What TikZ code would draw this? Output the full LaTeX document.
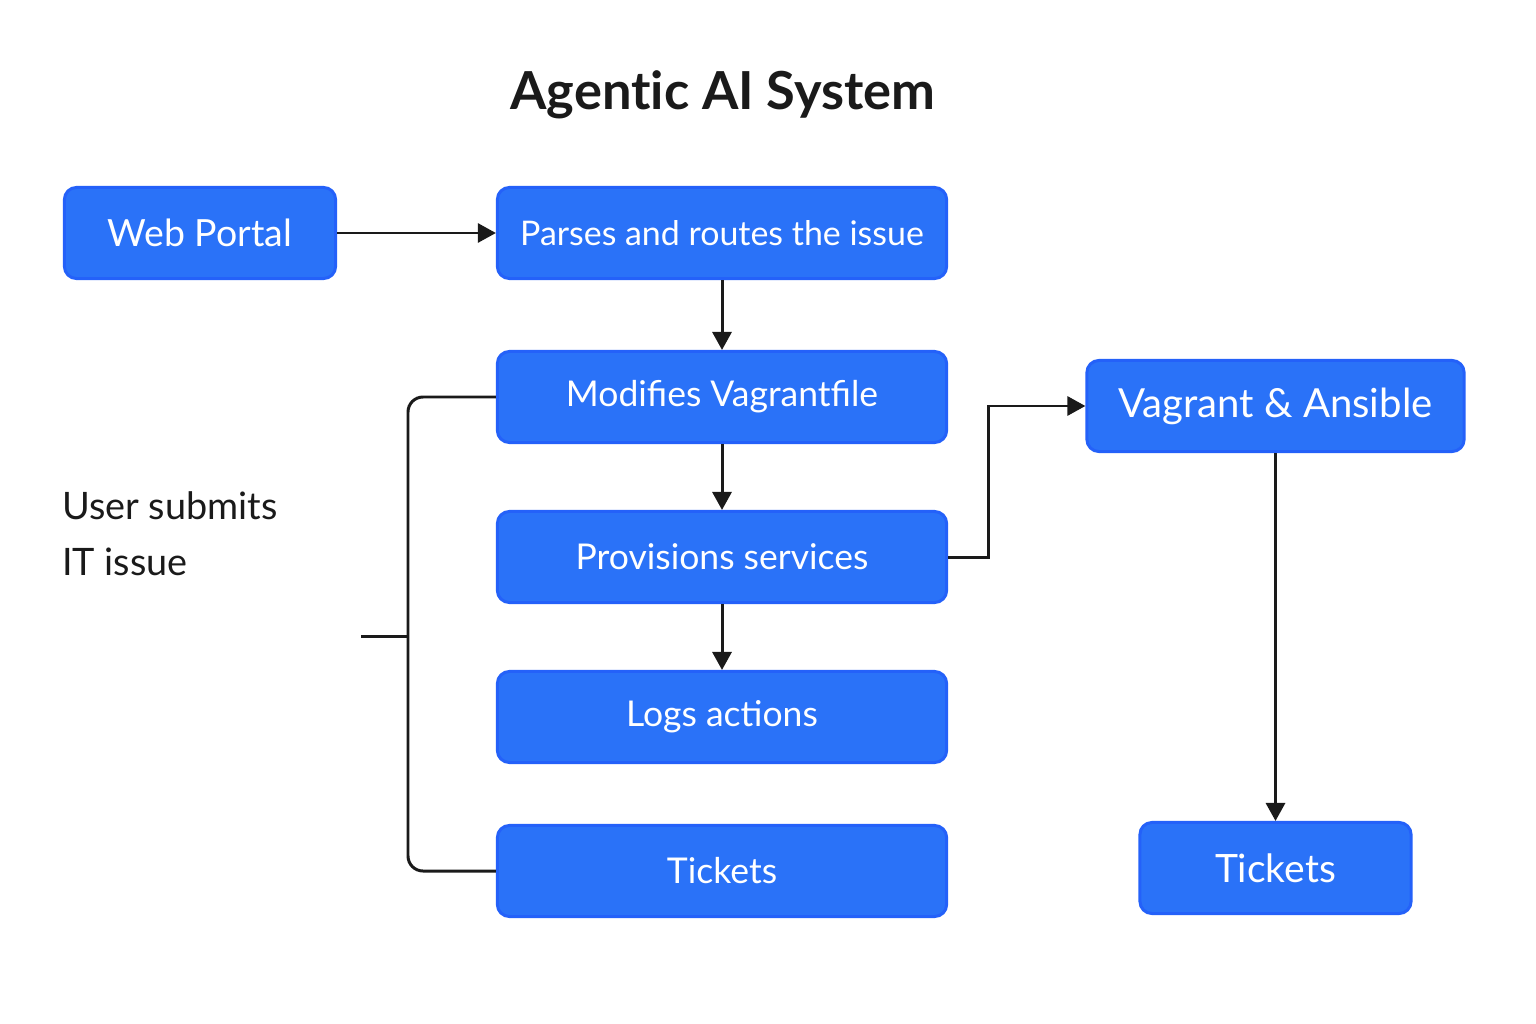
\documentclass[tikz,border=0pt]{standalone}
\usepackage{fontspec}
\setmainfont{Lato}
\usetikzlibrary{arrows.meta, positioning}
\definecolor{boxblue}{HTML}{2A72F8}
\definecolor{inkblack}{HTML}{1A1A1A}

\begin{document}
\begin{tikzpicture}[x = 0.01cm, y = -0.01cm, > = {Triangle[length=0.18cm, width=0.19cm]}, line width = 0.85pt, draw = inkblack]

\tikzset{box/.style = {rectangle, rounded corners = 0.12cm, fill = boxblue, draw = boxblue!85!blue, text = white, minimum height = 0.91cm, inner sep = 1pt, font = \fontsize{10.1}{12}\selectfont}}
\tikzset{wide/.style = {box, minimum width = 4.49cm}}

\useasboundingbox (0,0) rectangle (1536,1024);

\node[font = \fontsize{14.9}{18}\selectfont\bfseries, text = inkblack]	(title) at (723,95)		{Agent\kern0pt ic AI System};

\node[box, minimum width = 2.71cm, font = \fontsize{10.65}{13}\selectfont]		(web)		at (200,233)		{Web Portal};
\node[wide, font = \fontsize{9.65}{12}\selectfont]	(parse)		at (722,233)		{Parses and routes the issue};
\node[wide]							(modify)	at (722,397)		{Modifies Vagrantfile};
\node[wide]							(provision)	at (722,557)		{Provisions services};
\node[wide]							(logs)		at (722,717)		{Logs actions};
\node[wide]							(ticketsL)	at (722,871)		{Tickets};
\node[box, minimum width = 3.77cm, font = \fontsize{11.4}{14}\selectfont]	(vagrant)	at (1275.5,406)	{Vagrant \& Ansible};
\node[box, minimum width = 2.71cm, font = \fontsize{11.1}{14}\selectfont]	(ticketsR)	at (1275.5,868)	{Tickets};

\node[align = left, anchor = west, text = inkblack, font = \fontsize{10.75}{16}\selectfont]	(user)	at (49,534)	{User submits\\IT issue};

\coordinate (spine) at (408,636);
\coordinate (tick) at (361,636);

\draw[->]	(web)		--	(parse);
\draw[->]	(parse)		--	(modify);
\draw[->]	(modify)	--	(provision);
\draw[->]	(provision)	--	(logs);
\draw[->]	(provision.east)	-- ++(40,0) |- (vagrant.west);
\draw[->]	(vagrant)	--	(ticketsR);

\draw[rounded corners = 0.15cm]	(modify.west) -| (spine) |- (ticketsL.west);
\draw	(tick)	--	(spine);

\end{tikzpicture}
\end{document}
